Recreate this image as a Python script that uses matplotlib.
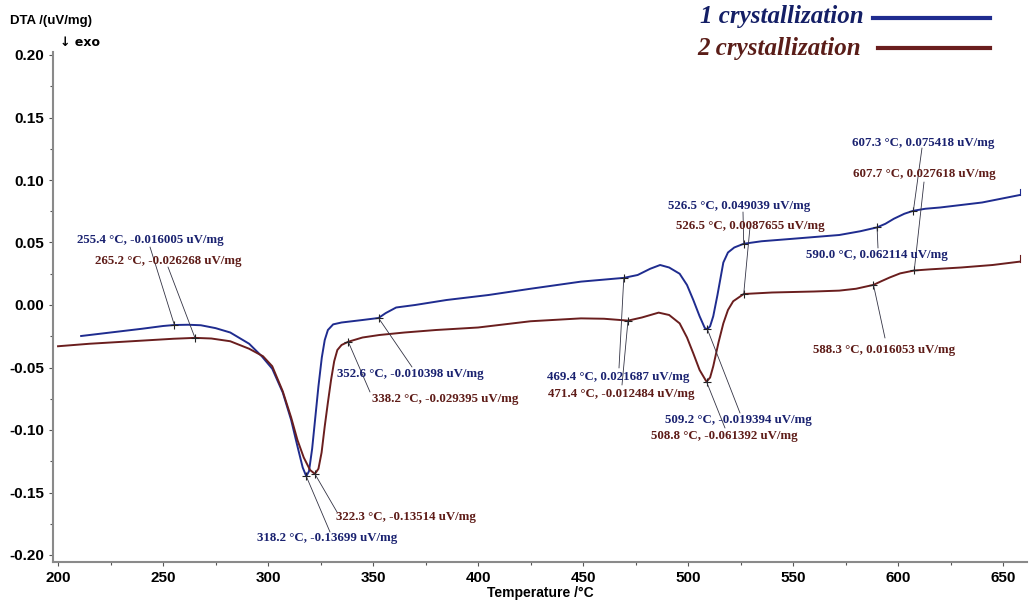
import matplotlib.pyplot as plt
from matplotlib.ticker import MultipleLocator

# DTA curves (temperature in degC, signal in uV/mg)
blue_T = [211, 220, 230, 240, 250, 255.4, 262, 268, 275, 282, 291, 297, 302, 307, 311,
          314, 316.5, 318.2, 319.5, 321, 322.5, 324, 325.6, 327, 328.5, 331, 335, 340,
          345, 352.6, 356, 361, 370, 385, 405, 425, 449, 469.4, 476, 482, 486.7, 491,
          496, 499.5, 502.5, 505.5, 508, 509.2, 510.5, 512, 514, 516.8, 519, 522, 526.5,
          535, 550, 572, 582, 590, 594, 598, 603, 607.3, 613, 620, 640, 658]
blue_v = [-0.0248, -0.023, -0.021, -0.019, -0.0168, -0.0160, -0.0158, -0.0162, -0.0185,
          -0.022, -0.031, -0.041, -0.051, -0.070, -0.092, -0.113, -0.130, -0.137, -0.133,
          -0.115, -0.090, -0.065, -0.042, -0.028, -0.020, -0.0155, -0.014, -0.013, -0.012,
          -0.0104, -0.0065, -0.002, 0.000, 0.004, 0.008, 0.013, 0.0187, 0.0217, 0.024,
          0.029, 0.032, 0.030, 0.025, 0.016, 0.004, -0.009, -0.0185, -0.0194, -0.017,
          -0.009, 0.008, 0.034, 0.042, 0.046, 0.049, 0.051, 0.053, 0.056, 0.059, 0.0621,
          0.065, 0.069, 0.073, 0.0754, 0.077, 0.078, 0.082, 0.088]

red_T = [200, 215, 230, 245, 255, 265.2, 273, 282, 291, 297.6, 302, 307, 311, 314, 317,
         320, 322.3, 324, 325.5, 327, 328.5, 330, 331.5, 333, 335, 338.2, 345, 353, 365,
         380, 400, 425, 449, 460, 471.4, 478, 486, 491, 496, 499.5, 502.5, 505.5, 508.8,
         510.5, 512, 514.5, 516.8, 519, 521.5, 526.5, 540, 560, 572, 580, 588.3, 592, 596,
         601, 607.7, 615, 630, 645, 658]
red_v = [-0.0330, -0.031, -0.0295, -0.028, -0.027, -0.0263, -0.0268, -0.029, -0.035,
         -0.041, -0.049, -0.069, -0.090, -0.108, -0.122, -0.132, -0.1351, -0.131, -0.118,
         -0.097, -0.078, -0.060, -0.045, -0.036, -0.032, -0.0294, -0.026, -0.024, -0.022,
         -0.020, -0.018, -0.013, -0.0107, -0.011, -0.0125, -0.010, -0.0061, -0.008,
         -0.0147, -0.026, -0.0387, -0.052, -0.0614, -0.058, -0.049, -0.030, -0.0147,
         -0.004, 0.003, 0.0088, 0.0100, 0.0108, 0.0115, 0.013, 0.0161, 0.019, 0.022,
         0.0253, 0.0276, 0.0285, 0.030, 0.032, 0.0347]

# marked points: (temperature, value label, label pixel x, label pixel y, leader end x, leader end y)
blue_marks = [(255.4, '-0.016005', 77, 240, 150, 247),
              (318.2, '-0.13699', 257, 538, 330, 532),
              (352.6, '-0.010398', 337, 374, 412, 367),
              (469.4, '0.021687', 547, 377, 619, 368),
              (509.2, '-0.019394', 665, 420, 740, 413),
              (526.5, '0.049039', 668, 206, 743, 212),
              (590.0, '0.062114', 806, 255, 878, 248),
              (607.3, '0.075418', 852, 143, 922, 148)]
red_marks = [(265.2, '-0.026268', 95, 261, 168, 267),
             (322.3, '-0.13514', 336, 517, 337, 512),
             (338.2, '-0.029395', 372, 399, 370, 392),
             (471.4, '-0.012484', 548, 394, 622, 385),
             (508.8, '-0.061392', 651, 436, 725, 428),
             (526.5, '0.0087655', 676, 226, 750, 227),
             (588.3, '0.016053', 813, 350, 885, 338),
             (607.7, '0.027618', 853, 174, 924, 182)]

blue_line = '#1f2c8f'
red_line = '#6a1e1e'
blue_text = '#1a2270'
red_text = '#5e1c18'

W, H = 1029, 605
fig = plt.figure(figsize=(W / 100, H / 100), dpi=100)
ax = fig.add_axes([53 / W, 43 / H, (1027 - 53) / W, (562 - 52) / H])

ax.plot(blue_T, blue_v, color=blue_line, lw=1.4)
ax.plot(red_T, red_v, color=red_line, lw=1.4)

# small end brackets
for T, v, c in [(blue_T[-1], blue_v[-1], blue_line), (red_T[-1], red_v[-1], red_line)]:
    ax.plot([T, T], [v, v + 0.005], color=c, lw=0.8)

for marks, ctext in [(blue_marks, blue_text), (red_marks, red_text)]:
    for T, val, px, py, lx, ly in marks:
        v = float(val)
        ax.plot(T, v, marker='+', ms=6, mew=0.8, color='#222222')
        ax.annotate('', xy=(T, v), xytext=(lx, H - ly), textcoords='figure pixels',
                    arrowprops=dict(arrowstyle='-', color='#333344', lw=0.6,
                                    shrinkA=0, shrinkB=0))
        fig.text(px / W, 1 - py / H, f'{T:.1f} °C, {val} uV/mg',
                 color=ctext, fontsize=9.3, family='Liberation Serif', weight='bold',
                 va='center', ha='left')

ax.set_xlim(197.6, 661.4)
ax.set_ylim(-0.2056, 0.2024)
ax.xaxis.set_major_locator(MultipleLocator(50))
ax.xaxis.set_minor_locator(MultipleLocator(25))
ax.yaxis.set_major_locator(MultipleLocator(0.05))
ax.yaxis.set_minor_locator(MultipleLocator(0.025))
ax.yaxis.set_major_formatter(plt.FuncFormatter(lambda y, p: f'{y:.2f}'))

for s in ['top', 'right']:
    ax.spines[s].set_visible(False)
for s in ['left', 'bottom']:
    ax.spines[s].set_color('#8a8a8a')
    ax.spines[s].set_linewidth(1.5)
ax.tick_params(which='both', colors='#555555', length=3, width=0.8)
ax.tick_params(which='minor', length=2)
ax.tick_params(labelcolor='black', labelsize=11)
for lab in ax.get_xticklabels() + ax.get_yticklabels():
    lab.set_family('Liberation Sans')
    lab.set_weight('bold')

ax.set_xlabel('Temperature /°C', family='Liberation Sans', weight='bold', fontsize=10,
              labelpad=1)
fig.text(10 / W, 1 - 21 / H, 'DTA /(uV/mg)', family='Liberation Sans', weight='bold',
         fontsize=9.5, va='center')
fig.text(60 / W, 1 - 43 / H, '↓ exo', family='DejaVu Sans', weight='bold',
         fontsize=9, va='center')

# legend drawn as in the original
fig.text(700 / W, 1 - 17 / H, '1 crystallization', family='Liberation Serif', weight='bold',
         style='italic', fontsize=18, color='#141f66', va='center')
fig.text(697 / W, 1 - 48 / H, '2 crystallization', family='Liberation Serif', weight='bold',
         style='italic', fontsize=18, color='#5a1d18', va='center')
fig.add_artist(plt.Line2D([873 / W, 990 / W], [1 - 18 / H, 1 - 18 / H], color=blue_line, lw=3))
fig.add_artist(plt.Line2D([878 / W, 990 / W], [1 - 48 / H, 1 - 48 / H], color=red_line, lw=3))

fig.savefig('out.png', dpi=100)
